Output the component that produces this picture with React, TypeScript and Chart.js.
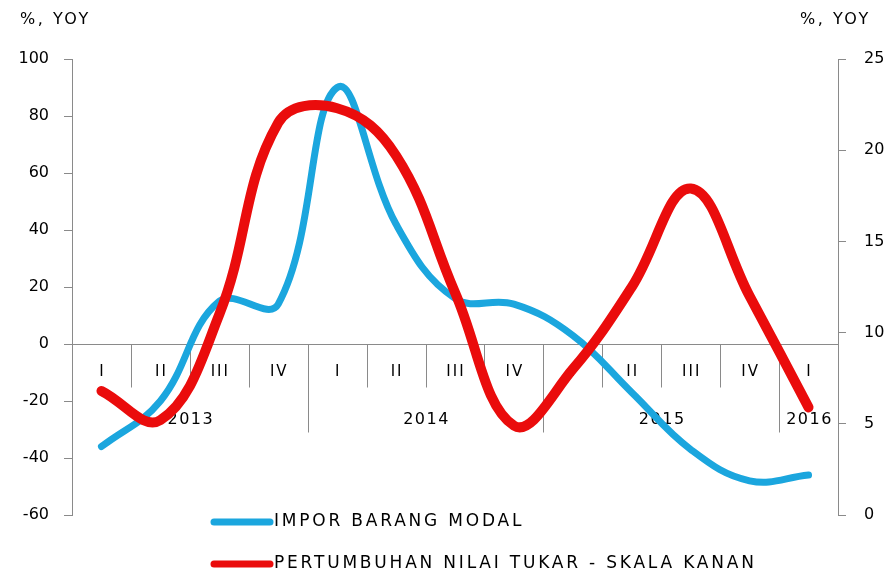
import { useEffect, useRef } from "react";
import { Chart, registerables } from "chart.js";

Chart.register(...registerables);

// Quarterly periods, Q1 2013 – Q1 2016
const quarterLabels = ["I", "II", "III", "IV", "I", "II", "III", "IV", "I", "II", "III", "IV", "I"];
const yearLabels = ["2013", "2014", "2015", "2016"];
const quartersInYear = [4, 4, 4, 1];

// Capital goods imports, % yoy (left axis)
const imporBarangModal = [-36, -20, 15, 14, 90, 42, 16, 14, 3, -17, -37, -48, -46];
// Exchange rate growth, % yoy (right axis)
const nilaiTukar = [6.8, 5.2, 11, 21.5, 22.3, 19.7, 12.2, 4.9, 8, 12.5, 17.9, 12, 5.9];

const seriesNames = ["IMPOR BARANG MODAL", "PERTUMBUHAN NILAI TUKAR - SKALA KANAN"];
const axisUnit = "%, YOY";

const leftMin = -60;
const leftMax = 100;
const leftStep = 20;
const rightMin = 0;
const rightMax = 25;
const rightStep = 5;

const FONT = "'DejaVu Sans', sans-serif";
const TEXT = "#000000";
const AXIS = "#8a8a8a";
const BLUE = "#1ba6de";
const RED = "#ea0c0c";

const decorations = {
  id: "decorations",
  beforeDatasetsDraw(chart: any) {
    const { ctx, chartArea } = chart;
    const xs = chart.scales.x;
    const y0 = Math.round(chart.scales.y.getPixelForValue(0)) + 0.5;
    const half = (xs.getPixelForValue(1) - xs.getPixelForValue(0)) / 2;
    ctx.save();
    ctx.strokeStyle = AXIS;
    ctx.lineWidth = 1;
    ctx.beginPath();
    ctx.moveTo(chartArea.left, y0);
    ctx.lineTo(chartArea.right, y0);
    ctx.stroke();

    // quarter separators; year boundaries run further down
    const yearEnds: number[] = [];
    let acc = 0;
    quartersInYear.forEach((q) => {
      acc += q;
      yearEnds.push(acc);
    });

    for (let i = 1; i < quarterLabels.length; i++) {
      const bx = Math.round(xs.getPixelForValue(i) - half) + 0.5;
      const long = yearEnds.includes(i);
      ctx.beginPath();
      ctx.moveTo(bx, y0);
      ctx.lineTo(bx, y0 + (long ? 88 : 43));
      ctx.stroke();
    }

    ctx.fillStyle = TEXT;
    ctx.textAlign = "center";
    ctx.textBaseline = "middle";
    ctx.font = `15px ${FONT}`;
    (ctx as any).letterSpacing = "2px";
    quarterLabels.forEach((q, i) => {
      ctx.fillText(q, xs.getPixelForValue(i) + 1, y0 + 28);
    });

    ctx.font = `16px ${FONT}`;
    (ctx as any).letterSpacing = "1.5px";
    let start = 0;
    yearLabels.forEach((yr, k) => {
      const first = xs.getPixelForValue(start) - half;
      const last = xs.getPixelForValue(start + quartersInYear[k] - 1) + half;
      ctx.fillText(yr, (first + last) / 2 + 1, y0 + 75);
      start += quartersInYear[k];
    });
    ctx.restore();
  },
  afterDraw(chart: any) {
    const { ctx, chartArea } = chart;
    ctx.save();
    ctx.fillStyle = TEXT;
    ctx.textBaseline = "middle";
    ctx.textAlign = "left";
    ctx.font = `16px ${FONT}`;
    (ctx as any).letterSpacing = "2.5px";
    ctx.fillText(axisUnit, chartArea.left - 52, chartArea.top - 39);
    ctx.fillText(axisUnit, chartArea.right - 38, chartArea.top - 39);

    // legend, one entry per row
    ctx.font = `17px ${FONT}`;
    (ctx as any).letterSpacing = "2.8px";
    chart.data.datasets.forEach((ds: any, i: number) => {
      const ly = chartArea.bottom + 7 + i * 42;
      const lx = chartArea.left + 142;
      ctx.strokeStyle = ds.borderColor;
      ctx.lineWidth = 7;
      ctx.lineCap = "round";
      ctx.beginPath();
      ctx.moveTo(lx, ly);
      ctx.lineTo(lx + 56, ly);
      ctx.stroke();
      ctx.fillText(ds.label, lx + 60, ly);
    });
    ctx.restore();
  },
};

export default function App() {
  const canvasRef = useRef<HTMLCanvasElement | null>(null);

  useEffect(() => {
    const canvas = canvasRef.current;
    if (!canvas) return;
    const tickFont = { family: FONT, size: 16 };
    const chart = new Chart(canvas, {
      type: "line",
      data: {
        labels: quarterLabels.map((q, i) => `${q}-${i}`),
        datasets: [
          {
            label: seriesNames[0],
            data: imporBarangModal,
            yAxisID: "y",
            borderColor: BLUE,
            backgroundColor: BLUE,
            borderWidth: 7,
            pointRadius: 0,
            tension: 0.4,
            borderCapStyle: "round",
            borderJoinStyle: "round",
            order: 1,
          },
          {
            label: seriesNames[1],
            data: nilaiTukar,
            yAxisID: "y1",
            borderColor: RED,
            backgroundColor: RED,
            borderWidth: 10,
            pointRadius: 0,
            tension: 0.4,
            borderCapStyle: "round",
            borderJoinStyle: "round",
            order: 0,
          },
        ],
      },
      options: {
        responsive: false,
        animation: false,
        layout: { padding: { top: 59, bottom: 66, left: 0, right: 0 } },
        plugins: {
          legend: { display: false },
          tooltip: { enabled: false },
        },
        scales: {
          x: {
            type: "category",
            display: false,
            offset: true,
          },
          y: {
            position: "left",
            min: leftMin,
            max: leftMax,
            ticks: { stepSize: leftStep, color: TEXT, font: tickFont, padding: 15 },
            grid: { drawOnChartArea: false, drawTicks: true, tickLength: 8, color: AXIS },
            border: { display: true, color: AXIS },
            afterFit: (s: any) => {
              s.width = 72;
            },
          },
          y1: {
            position: "right",
            min: rightMin,
            max: rightMax,
            ticks: { stepSize: rightStep, color: TEXT, font: tickFont, padding: 18 },
            grid: { drawOnChartArea: false, drawTicks: true, tickLength: 8, color: AXIS },
            border: { display: true, color: AXIS },
            afterFit: (s: any) => {
              s.width = 50;
            },
          },
        },
      },
      plugins: [decorations],
    } as any);
    return () => chart.destroy();
  }, []);

  return (
    <div style={{ position: "absolute", left: 0, top: 0, width: 888, height: 581, background: "#fff" }}>
      <canvas ref={canvasRef} width={888} height={581} />
    </div>
  );
}
